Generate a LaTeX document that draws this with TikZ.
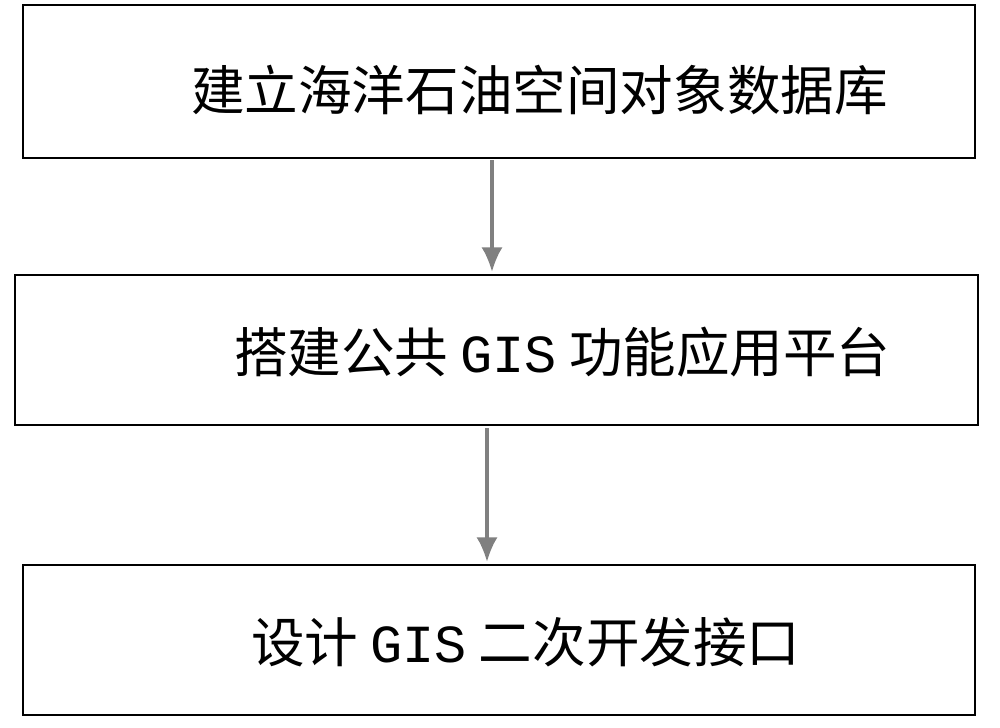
\documentclass[tikz,border=0pt]{standalone}
\usepackage{fontspec}
\usetikzlibrary{arrows.meta}
\newfontfamily\cjk{Noto Sans CJK SC}
\newfontfamily\latin{Liberation Mono}
\begin{document}
\begin{tikzpicture}[x=0.02cm,y=-0.02cm,
  steptext/.style={anchor=west, font=\cjk\fontsize{30.5}{36}\selectfont},
  flow/.style={-{Latex[length=14pt,width=12pt]}, draw=gray, line width=2pt}]
\useasboundingbox (0,0) rectangle (1000,727);

\draw[line width=1pt] (23,5) rectangle (975,158);
\node[steptext] (t1) at (185,90) {建立海洋石油空间对象数据库};

\draw[line width=1pt] (15,275) rectangle (978,425);
\node[steptext] (t2) at (228,352) {搭建公共 {\latin GIS} 功能应用平台};

\draw[line width=1pt] (23,565) rectangle (975,715);
\node[steptext] (t3) at (245,642) {设计 {\latin GIS} 二次开发接口};

\coordinate (a1) at (492,160);
\coordinate (b1) at (492,272);
\coordinate (a2) at (487,428);
\coordinate (b2) at (487,562);
\draw[flow] (a1) -- (b1);
\draw[flow] (a2) -- (b2);
\end{tikzpicture}
\end{document}
